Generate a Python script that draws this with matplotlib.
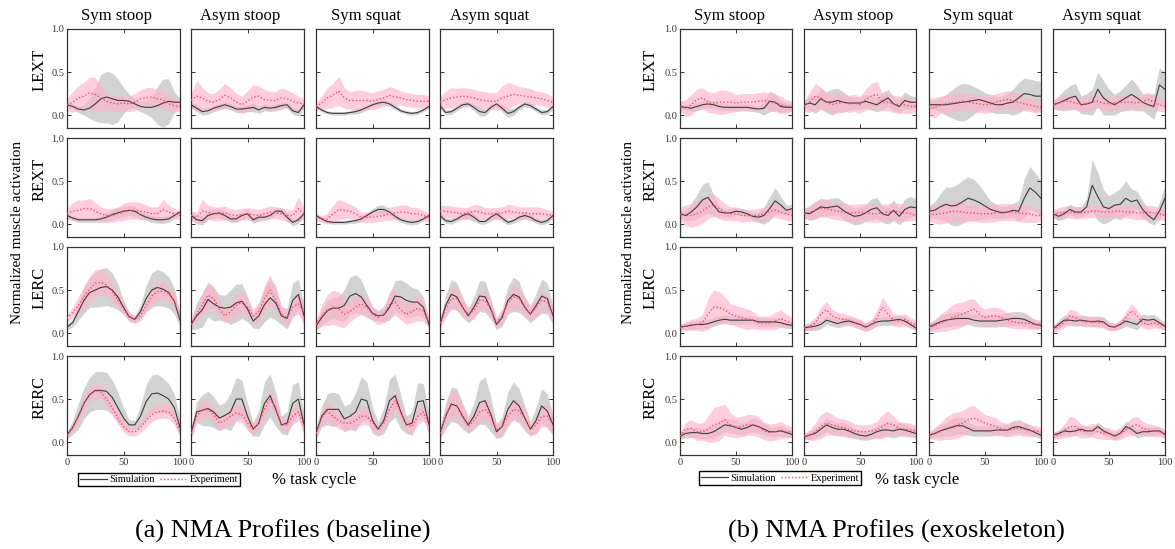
import numpy as np
import matplotlib
matplotlib.use("Agg")
import matplotlib.pyplot as plt
from matplotlib.lines import Line2D

plt.rcParams['font.family'] = ['Liberation Serif', 'DejaVu Serif']

pct = [0, 5, 10, 15, 20, 25, 30, 35, 40, 45, 50, 55, 60, 65, 70, 75, 80, 85, 90, 95, 100]
tasks = ["Sym stoop", "Asym stoop", "Sym squat", "Asym squat"]
muscles = ["LEXT", "REXT", "LERC", "RERC"]

# ---------------- baseline: simulation mean (rows = tasks) ----------------
base_sim_LEXT = [
    [0.12,0.10,0.07,0.06,0.08,0.13,0.19,0.21,0.19,0.17,0.17,0.16,0.13,0.10,0.09,0.09,0.11,0.14,0.16,0.15,0.15],
    [0.12,0.08,0.04,0.05,0.08,0.10,0.12,0.10,0.07,0.07,0.08,0.09,0.06,0.09,0.08,0.09,0.11,0.12,0.05,0.03,0.12],
    [0.10,0.06,0.03,0.02,0.02,0.02,0.03,0.04,0.06,0.09,0.12,0.14,0.15,0.13,0.09,0.05,0.03,0.02,0.03,0.06,0.10],
    [0.11,0.03,0.04,0.08,0.12,0.13,0.09,0.04,0.03,0.09,0.13,0.08,0.02,0.04,0.09,0.13,0.11,0.07,0.03,0.04,0.10]]
base_sim_REXT = [
    [0.10,0.07,0.05,0.05,0.05,0.05,0.06,0.08,0.11,0.13,0.15,0.16,0.15,0.11,0.08,0.06,0.05,0.05,0.06,0.10,0.14],
    [0.10,0.05,0.04,0.10,0.12,0.13,0.10,0.06,0.06,0.10,0.12,0.05,0.08,0.08,0.10,0.15,0.15,0.08,0.02,0.05,0.12],
    [0.10,0.06,0.03,0.02,0.02,0.02,0.03,0.04,0.06,0.10,0.14,0.17,0.17,0.14,0.09,0.05,0.03,0.02,0.03,0.06,0.10],
    [0.10,0.04,0.03,0.06,0.10,0.12,0.08,0.03,0.03,0.08,0.12,0.07,0.02,0.04,0.08,0.10,0.08,0.04,0.02,0.04,0.10]]
base_sim_LERC = [
    [0.07,0.12,0.25,0.38,0.47,0.50,0.53,0.54,0.50,0.42,0.30,0.19,0.16,0.25,0.40,0.50,0.53,0.51,0.47,0.37,0.15],
    [0.10,0.20,0.27,0.39,0.34,0.30,0.29,0.30,0.35,0.37,0.28,0.14,0.20,0.33,0.41,0.35,0.20,0.17,0.38,0.45,0.20],
    [0.08,0.18,0.26,0.29,0.29,0.32,0.43,0.46,0.42,0.32,0.23,0.20,0.21,0.30,0.43,0.42,0.38,0.36,0.36,0.30,0.10],
    [0.10,0.32,0.45,0.42,0.30,0.20,0.30,0.43,0.42,0.28,0.10,0.18,0.38,0.45,0.42,0.30,0.22,0.32,0.43,0.40,0.20]]
base_sim_RERC = [
    [0.08,0.17,0.30,0.45,0.55,0.60,0.60,0.59,0.52,0.40,0.28,0.20,0.20,0.30,0.47,0.56,0.57,0.54,0.50,0.40,0.17],
    [0.10,0.35,0.37,0.39,0.35,0.28,0.31,0.35,0.50,0.50,0.30,0.15,0.22,0.45,0.54,0.38,0.20,0.22,0.45,0.50,0.20],
    [0.10,0.30,0.38,0.38,0.38,0.27,0.30,0.35,0.50,0.48,0.25,0.15,0.25,0.48,0.54,0.35,0.20,0.22,0.47,0.48,0.20],
    [0.10,0.30,0.44,0.42,0.30,0.20,0.30,0.46,0.48,0.32,0.12,0.18,0.38,0.48,0.42,0.28,0.15,0.25,0.42,0.36,0.20]]

# baseline: simulation spread
base_simsd_LEXT = [
    [0.03,0.03,0.04,0.06,0.12,0.20,0.28,0.30,0.30,0.25,0.15,0.08,0.06,0.06,0.08,0.12,0.22,0.28,0.26,0.12,0.05],
    [0.03,0.04,0.04,0.04,0.04,0.04,0.04,0.04,0.04,0.04,0.04,0.05,0.04,0.04,0.04,0.04,0.04,0.04,0.04,0.04,0.03],
    [0.02,0.02,0.02,0.02,0.02,0.02,0.02,0.03,0.03,0.03,0.03,0.03,0.03,0.03,0.03,0.02,0.02,0.02,0.02,0.02,0.02],
    [0.03,0.03,0.03,0.03,0.03,0.03,0.04,0.05,0.04,0.03,0.03,0.04,0.05,0.04,0.03,0.03,0.03,0.03,0.03,0.03,0.03]]
base_simsd_REXT = [
    [0.03,0.03,0.03,0.03,0.03,0.03,0.04,0.05,0.06,0.06,0.06,0.06,0.06,0.05,0.04,0.04,0.04,0.04,0.04,0.04,0.03],
    [0.05,0.05,0.05,0.05,0.05,0.05,0.05,0.04,0.04,0.04,0.05,0.04,0.04,0.04,0.04,0.04,0.04,0.05,0.04,0.04,0.04],
    [0.02,0.02,0.02,0.02,0.02,0.02,0.02,0.03,0.03,0.03,0.04,0.05,0.05,0.04,0.03,0.03,0.03,0.03,0.03,0.02,0.02],
    [0.03,0.03,0.03,0.03,0.04,0.06,0.05,0.03,0.03,0.04,0.05,0.04,0.03,0.03,0.04,0.04,0.04,0.03,0.03,0.03,0.03]]
base_simsd_LERC = [
    [0.03,0.05,0.10,0.15,0.17,0.20,0.22,0.22,0.20,0.15,0.08,0.05,0.04,0.08,0.15,0.20,0.21,0.20,0.18,0.15,0.08],
    [0.06,0.15,0.20,0.20,0.20,0.15,0.15,0.20,0.22,0.20,0.15,0.08,0.15,0.20,0.22,0.20,0.10,0.12,0.20,0.18,0.12],
    [0.04,0.10,0.12,0.12,0.14,0.18,0.22,0.22,0.20,0.14,0.08,0.06,0.08,0.15,0.18,0.20,0.20,0.17,0.15,0.12,0.05],
    [0.05,0.12,0.17,0.16,0.12,0.08,0.12,0.18,0.18,0.12,0.06,0.10,0.16,0.20,0.18,0.12,0.10,0.14,0.20,0.18,0.10]]
base_simsd_RERC = [
    [0.04,0.08,0.15,0.18,0.20,0.22,0.22,0.22,0.20,0.18,0.12,0.06,0.05,0.12,0.20,0.22,0.22,0.20,0.18,0.16,0.10],
    [0.06,0.12,0.18,0.20,0.18,0.15,0.15,0.22,0.25,0.22,0.15,0.08,0.15,0.25,0.25,0.20,0.10,0.14,0.22,0.20,0.12],
    [0.06,0.12,0.18,0.20,0.18,0.15,0.15,0.22,0.26,0.22,0.15,0.08,0.15,0.25,0.25,0.20,0.10,0.14,0.22,0.20,0.12],
    [0.06,0.15,0.20,0.20,0.15,0.10,0.15,0.25,0.28,0.20,0.08,0.12,0.20,0.22,0.20,0.15,0.08,0.15,0.20,0.20,0.12]]

# baseline: experiment mean
base_exp_LEXT = [
    [0.12,0.15,0.20,0.22,0.26,0.24,0.20,0.16,0.14,0.13,0.14,0.13,0.15,0.19,0.20,0.21,0.19,0.18,0.13,0.11,0.10],
    [0.17,0.22,0.20,0.16,0.15,0.18,0.23,0.20,0.15,0.12,0.16,0.21,0.22,0.18,0.17,0.17,0.20,0.19,0.16,0.14,0.13],
    [0.10,0.14,0.20,0.23,0.28,0.20,0.17,0.17,0.17,0.17,0.16,0.18,0.20,0.23,0.21,0.20,0.18,0.17,0.16,0.16,0.16],
    [0.15,0.18,0.20,0.21,0.22,0.21,0.20,0.18,0.17,0.16,0.16,0.20,0.22,0.24,0.23,0.22,0.21,0.20,0.19,0.17,0.15]]
base_exp_REXT = [
    [0.12,0.15,0.16,0.18,0.18,0.15,0.12,0.10,0.10,0.12,0.14,0.16,0.16,0.15,0.14,0.12,0.12,0.17,0.14,0.12,0.10],
    [0.10,0.08,0.15,0.14,0.12,0.12,0.13,0.11,0.10,0.11,0.12,0.11,0.10,0.12,0.14,0.13,0.12,0.10,0.10,0.18,0.12],
    [0.08,0.06,0.06,0.12,0.17,0.16,0.15,0.12,0.08,0.08,0.08,0.09,0.10,0.12,0.13,0.14,0.14,0.12,0.12,0.10,0.08],
    [0.15,0.15,0.14,0.13,0.12,0.13,0.15,0.14,0.12,0.12,0.12,0.13,0.15,0.14,0.13,0.13,0.12,0.12,0.12,0.11,0.10]]
base_exp_LERC = [
    [0.17,0.24,0.32,0.42,0.51,0.58,0.59,0.56,0.48,0.38,0.28,0.19,0.16,0.20,0.32,0.43,0.48,0.49,0.46,0.38,0.18],
    [0.10,0.22,0.33,0.44,0.40,0.28,0.20,0.25,0.32,0.36,0.30,0.20,0.25,0.40,0.50,0.38,0.22,0.18,0.30,0.34,0.25],
    [0.10,0.20,0.27,0.30,0.28,0.22,0.25,0.30,0.34,0.30,0.22,0.18,0.22,0.33,0.36,0.27,0.22,0.25,0.29,0.26,0.12],
    [0.12,0.28,0.40,0.40,0.30,0.22,0.26,0.38,0.38,0.28,0.12,0.20,0.35,0.42,0.40,0.30,0.22,0.30,0.38,0.36,0.20]]
base_exp_RERC = [
    [0.08,0.16,0.30,0.45,0.55,0.60,0.58,0.50,0.40,0.28,0.18,0.12,0.12,0.17,0.25,0.32,0.35,0.36,0.35,0.28,0.12],
    [0.10,0.30,0.38,0.38,0.32,0.22,0.25,0.30,0.34,0.32,0.22,0.15,0.22,0.38,0.50,0.40,0.20,0.20,0.30,0.35,0.20],
    [0.10,0.28,0.36,0.30,0.25,0.22,0.22,0.25,0.30,0.30,0.22,0.14,0.22,0.38,0.48,0.35,0.20,0.18,0.30,0.35,0.20],
    [0.10,0.30,0.45,0.42,0.30,0.18,0.25,0.35,0.38,0.30,0.14,0.18,0.30,0.38,0.36,0.28,0.15,0.20,0.30,0.30,0.20]]

# baseline: experiment spread
base_expsd_LEXT = [
    [0.08,0.12,0.14,0.16,0.18,0.20,0.14,0.10,0.10,0.09,0.09,0.09,0.10,0.10,0.12,0.11,0.10,0.10,0.08,0.08,0.06],
    [0.08,0.18,0.12,0.10,0.10,0.12,0.14,0.12,0.10,0.10,0.12,0.14,0.12,0.12,0.10,0.10,0.12,0.10,0.10,0.08,0.06],
    [0.04,0.08,0.12,0.14,0.17,0.12,0.10,0.12,0.12,0.10,0.10,0.10,0.10,0.10,0.10,0.08,0.08,0.08,0.08,0.08,0.06],
    [0.06,0.10,0.12,0.10,0.10,0.10,0.10,0.10,0.10,0.10,0.10,0.14,0.16,0.12,0.10,0.10,0.10,0.08,0.08,0.08,0.06]]
base_expsd_REXT = [
    [0.06,0.10,0.12,0.10,0.12,0.10,0.08,0.08,0.08,0.08,0.10,0.10,0.10,0.10,0.08,0.08,0.08,0.12,0.08,0.06,0.05],
    [0.05,0.06,0.14,0.08,0.08,0.08,0.08,0.07,0.07,0.07,0.07,0.07,0.07,0.07,0.07,0.07,0.07,0.07,0.07,0.14,0.06],
    [0.04,0.04,0.06,0.10,0.12,0.10,0.08,0.08,0.06,0.06,0.06,0.06,0.06,0.08,0.08,0.08,0.08,0.07,0.07,0.06,0.05],
    [0.06,0.07,0.07,0.07,0.07,0.07,0.08,0.08,0.07,0.07,0.07,0.07,0.08,0.08,0.07,0.07,0.08,0.08,0.07,0.06,0.05]]
base_expsd_LERC = [
    [0.04,0.06,0.10,0.13,0.15,0.16,0.15,0.13,0.10,0.08,0.06,0.05,0.05,0.06,0.08,0.10,0.10,0.10,0.10,0.08,0.05],
    [0.05,0.08,0.12,0.15,0.12,0.10,0.08,0.10,0.12,0.12,0.10,0.08,0.10,0.15,0.18,0.12,0.10,0.08,0.10,0.12,0.12],
    [0.05,0.12,0.18,0.20,0.20,0.16,0.12,0.12,0.12,0.10,0.08,0.08,0.10,0.15,0.15,0.12,0.12,0.13,0.15,0.12,0.06],
    [0.05,0.10,0.12,0.12,0.10,0.08,0.10,0.10,0.10,0.10,0.06,0.08,0.10,0.14,0.12,0.10,0.08,0.10,0.10,0.10,0.08]]
base_expsd_RERC = [
    [0.03,0.05,0.07,0.08,0.08,0.08,0.08,0.08,0.08,0.07,0.06,0.05,0.05,0.06,0.08,0.08,0.08,0.08,0.08,0.08,0.05],
    [0.04,0.08,0.10,0.10,0.10,0.08,0.08,0.10,0.10,0.10,0.08,0.06,0.08,0.10,0.10,0.10,0.08,0.08,0.10,0.10,0.08],
    [0.04,0.08,0.10,0.10,0.10,0.08,0.08,0.10,0.10,0.10,0.08,0.06,0.08,0.10,0.10,0.10,0.08,0.08,0.10,0.10,0.08],
    [0.05,0.12,0.15,0.15,0.12,0.08,0.10,0.12,0.12,0.10,0.08,0.08,0.10,0.12,0.12,0.10,0.08,0.10,0.12,0.12,0.10]]

# ---------------- exoskeleton: simulation mean ----------------
exo_sim_LEXT = [
    [0.10,0.09,0.08,0.10,0.12,0.13,0.12,0.10,0.09,0.09,0.09,0.09,0.09,0.08,0.07,0.08,0.16,0.15,0.10,0.09,0.09],
    [0.12,0.14,0.12,0.19,0.15,0.15,0.17,0.15,0.14,0.14,0.14,0.16,0.14,0.12,0.16,0.20,0.13,0.10,0.17,0.15,0.15],
    [0.12,0.12,0.12,0.12,0.13,0.14,0.15,0.16,0.17,0.18,0.16,0.14,0.12,0.12,0.14,0.15,0.20,0.25,0.24,0.22,0.22],
    [0.12,0.14,0.17,0.20,0.22,0.12,0.13,0.15,0.30,0.20,0.15,0.12,0.16,0.20,0.24,0.20,0.15,0.12,0.10,0.35,0.30]]
exo_sim_REXT = [
    [0.12,0.10,0.14,0.20,0.28,0.31,0.22,0.14,0.13,0.13,0.15,0.14,0.12,0.09,0.08,0.10,0.18,0.27,0.22,0.16,0.18],
    [0.13,0.12,0.16,0.20,0.19,0.20,0.21,0.16,0.12,0.09,0.10,0.13,0.17,0.19,0.12,0.10,0.16,0.09,0.17,0.20,0.19],
    [0.15,0.16,0.20,0.23,0.21,0.22,0.26,0.30,0.28,0.25,0.21,0.17,0.15,0.13,0.14,0.16,0.15,0.30,0.42,0.37,0.30],
    [0.12,0.09,0.12,0.17,0.14,0.14,0.20,0.45,0.32,0.20,0.18,0.22,0.23,0.30,0.26,0.28,0.17,0.10,0.05,0.15,0.30]]
exo_sim_LERC = [
    [0.07,0.08,0.09,0.10,0.10,0.11,0.13,0.15,0.16,0.15,0.15,0.15,0.15,0.15,0.13,0.13,0.13,0.13,0.12,0.10,0.09],
    [0.06,0.07,0.08,0.10,0.15,0.13,0.11,0.13,0.14,0.12,0.10,0.07,0.10,0.13,0.14,0.14,0.15,0.16,0.14,0.10,0.06],
    [0.07,0.10,0.13,0.15,0.16,0.17,0.17,0.17,0.15,0.14,0.14,0.14,0.14,0.15,0.16,0.17,0.17,0.16,0.13,0.10,0.09],
    [0.05,0.10,0.15,0.15,0.14,0.15,0.14,0.13,0.14,0.13,0.08,0.07,0.10,0.14,0.12,0.10,0.16,0.15,0.16,0.12,0.08]]
exo_sim_RERC = [
    [0.07,0.10,0.11,0.11,0.10,0.10,0.12,0.16,0.20,0.19,0.17,0.15,0.17,0.20,0.18,0.15,0.12,0.12,0.13,0.11,0.09],
    [0.06,0.08,0.10,0.15,0.20,0.17,0.15,0.15,0.13,0.10,0.08,0.07,0.09,0.12,0.14,0.14,0.13,0.15,0.14,0.12,0.10],
    [0.08,0.10,0.13,0.15,0.17,0.19,0.19,0.16,0.13,0.13,0.13,0.13,0.14,0.14,0.14,0.17,0.18,0.16,0.14,0.11,0.08],
    [0.08,0.10,0.13,0.12,0.13,0.15,0.13,0.13,0.18,0.13,0.10,0.07,0.10,0.18,0.15,0.10,0.12,0.12,0.13,0.13,0.09]]

# exoskeleton: simulation spread
exo_simsd_LEXT = [
    [0.03,0.03,0.04,0.05,0.05,0.05,0.05,0.04,0.04,0.04,0.04,0.04,0.04,0.04,0.04,0.08,0.12,0.10,0.07,0.05,0.04],
    [0.04,0.08,0.10,0.12,0.12,0.15,0.14,0.12,0.08,0.07,0.07,0.08,0.08,0.08,0.10,0.10,0.08,0.08,0.10,0.08,0.06],
    [0.05,0.06,0.08,0.12,0.16,0.20,0.22,0.20,0.16,0.12,0.10,0.10,0.10,0.10,0.12,0.15,0.18,0.18,0.18,0.18,0.17],
    [0.04,0.08,0.12,0.14,0.15,0.10,0.12,0.15,0.20,0.20,0.15,0.12,0.12,0.15,0.18,0.15,0.10,0.12,0.15,0.20,0.20]]
exo_simsd_REXT = [
    [0.04,0.06,0.10,0.14,0.18,0.18,0.12,0.06,0.05,0.05,0.04,0.04,0.04,0.04,0.06,0.10,0.14,0.15,0.10,0.06,0.05],
    [0.05,0.08,0.10,0.10,0.10,0.10,0.10,0.10,0.10,0.10,0.10,0.10,0.12,0.12,0.10,0.10,0.12,0.10,0.12,0.12,0.10],
    [0.06,0.10,0.15,0.20,0.22,0.24,0.25,0.25,0.24,0.20,0.15,0.10,0.08,0.07,0.07,0.08,0.12,0.22,0.25,0.22,0.20],
    [0.04,0.05,0.06,0.06,0.06,0.06,0.10,0.30,0.28,0.20,0.15,0.15,0.18,0.20,0.15,0.10,0.10,0.08,0.06,0.10,0.15]]
exo_simsd_LERC = [
    [0.03,0.04,0.05,0.05,0.05,0.05,0.05,0.05,0.05,0.05,0.05,0.05,0.05,0.05,0.05,0.05,0.05,0.05,0.05,0.04,0.04],
    [0.03,0.04,0.05,0.05,0.05,0.05,0.05,0.05,0.05,0.05,0.05,0.05,0.05,0.05,0.05,0.05,0.05,0.05,0.05,0.04,0.03],
    [0.04,0.06,0.07,0.08,0.08,0.08,0.08,0.07,0.07,0.07,0.07,0.07,0.07,0.07,0.08,0.08,0.08,0.08,0.07,0.05,0.04],
    [0.03,0.05,0.06,0.06,0.06,0.06,0.06,0.06,0.06,0.06,0.05,0.04,0.05,0.06,0.06,0.06,0.06,0.06,0.06,0.05,0.04]]
exo_simsd_RERC = [
    [0.03,0.05,0.06,0.06,0.06,0.06,0.07,0.08,0.08,0.08,0.08,0.07,0.07,0.08,0.08,0.07,0.06,0.06,0.06,0.05,0.04],
    [0.03,0.05,0.06,0.07,0.08,0.08,0.08,0.08,0.07,0.06,0.05,0.05,0.06,0.07,0.08,0.08,0.08,0.08,0.07,0.06,0.05],
    [0.03,0.05,0.07,0.08,0.10,0.10,0.10,0.08,0.06,0.06,0.06,0.06,0.06,0.06,0.07,0.08,0.08,0.07,0.06,0.05,0.04],
    [0.03,0.04,0.05,0.05,0.05,0.05,0.05,0.05,0.05,0.05,0.04,0.04,0.05,0.06,0.06,0.05,0.05,0.05,0.05,0.05,0.04]]

# exoskeleton: experiment mean
exo_exp_LEXT = [
    [0.10,0.08,0.12,0.18,0.20,0.15,0.14,0.15,0.15,0.15,0.14,0.15,0.15,0.15,0.16,0.17,0.16,0.14,0.12,0.10,0.10],
    [0.10,0.15,0.22,0.20,0.15,0.12,0.14,0.15,0.13,0.14,0.12,0.18,0.22,0.24,0.15,0.15,0.13,0.12,0.12,0.10,0.10],
    [0.10,0.08,0.12,0.13,0.14,0.15,0.16,0.15,0.14,0.13,0.12,0.13,0.15,0.17,0.18,0.17,0.15,0.13,0.12,0.10,0.09],
    [0.12,0.14,0.16,0.16,0.14,0.12,0.13,0.15,0.16,0.14,0.13,0.14,0.15,0.15,0.15,0.14,0.16,0.18,0.15,0.12,0.10]]
exo_exp_REXT = [
    [0.12,0.10,0.10,0.12,0.15,0.20,0.22,0.18,0.14,0.12,0.12,0.10,0.10,0.10,0.10,0.12,0.15,0.16,0.14,0.12,0.10],
    [0.12,0.14,0.16,0.18,0.18,0.16,0.15,0.14,0.13,0.13,0.14,0.14,0.12,0.12,0.13,0.14,0.15,0.14,0.13,0.12,0.10],
    [0.12,0.11,0.12,0.13,0.15,0.15,0.14,0.13,0.13,0.12,0.12,0.12,0.13,0.14,0.14,0.14,0.13,0.12,0.12,0.10,0.10],
    [0.12,0.13,0.14,0.14,0.13,0.13,0.14,0.15,0.15,0.14,0.14,0.15,0.15,0.14,0.14,0.13,0.13,0.14,0.13,0.12,0.10]]
exo_exp_LERC = [
    [0.06,0.08,0.10,0.10,0.12,0.22,0.30,0.30,0.27,0.22,0.20,0.18,0.16,0.15,0.12,0.12,0.12,0.14,0.17,0.14,0.12],
    [0.06,0.08,0.12,0.22,0.27,0.20,0.17,0.16,0.15,0.13,0.10,0.07,0.10,0.18,0.30,0.22,0.15,0.14,0.16,0.12,0.10],
    [0.07,0.08,0.12,0.14,0.18,0.20,0.22,0.25,0.28,0.22,0.18,0.20,0.20,0.18,0.15,0.13,0.12,0.12,0.11,0.10,0.10],
    [0.05,0.08,0.12,0.20,0.18,0.14,0.13,0.14,0.12,0.12,0.08,0.07,0.10,0.18,0.26,0.20,0.12,0.10,0.12,0.10,0.08]]
exo_exp_RERC = [
    [0.07,0.15,0.16,0.12,0.12,0.15,0.20,0.22,0.26,0.20,0.17,0.18,0.20,0.20,0.18,0.13,0.11,0.12,0.14,0.12,0.12],
    [0.07,0.08,0.12,0.18,0.22,0.20,0.18,0.17,0.15,0.13,0.12,0.12,0.13,0.14,0.18,0.22,0.20,0.16,0.15,0.14,0.13],
    [0.08,0.10,0.12,0.16,0.18,0.20,0.22,0.26,0.28,0.25,0.22,0.20,0.18,0.15,0.14,0.15,0.16,0.15,0.13,0.13,0.12],
    [0.08,0.08,0.13,0.18,0.18,0.13,0.12,0.14,0.12,0.10,0.10,0.08,0.10,0.14,0.18,0.20,0.16,0.14,0.13,0.12,0.10]]

# exoskeleton: experiment spread
exo_expsd_LEXT = [
    [0.06,0.10,0.12,0.12,0.12,0.12,0.12,0.14,0.14,0.12,0.10,0.10,0.10,0.10,0.10,0.10,0.10,0.10,0.10,0.08,0.06],
    [0.06,0.12,0.15,0.12,0.10,0.10,0.10,0.10,0.10,0.10,0.10,0.12,0.15,0.15,0.10,0.10,0.10,0.10,0.10,0.08,0.06],
    [0.10,0.12,0.10,0.10,0.10,0.10,0.10,0.10,0.10,0.10,0.10,0.10,0.10,0.10,0.10,0.10,0.10,0.08,0.08,0.08,0.06],
    [0.05,0.08,0.08,0.08,0.08,0.08,0.08,0.08,0.08,0.08,0.08,0.08,0.08,0.08,0.08,0.08,0.08,0.08,0.08,0.08,0.06]]
exo_expsd_REXT = [
    [0.08,0.12,0.14,0.14,0.14,0.14,0.13,0.12,0.10,0.08,0.08,0.08,0.07,0.07,0.08,0.08,0.08,0.08,0.08,0.08,0.06],
    [0.06,0.08,0.10,0.10,0.10,0.10,0.10,0.10,0.10,0.10,0.10,0.10,0.10,0.10,0.10,0.10,0.10,0.10,0.10,0.08,0.06],
    [0.08,0.10,0.12,0.12,0.12,0.12,0.12,0.10,0.10,0.10,0.10,0.10,0.10,0.10,0.10,0.10,0.10,0.10,0.10,0.08,0.06],
    [0.05,0.06,0.07,0.07,0.07,0.07,0.07,0.07,0.07,0.07,0.07,0.07,0.07,0.07,0.08,0.08,0.08,0.08,0.08,0.07,0.06]]
exo_expsd_LERC = [
    [0.04,0.05,0.06,0.07,0.10,0.18,0.20,0.18,0.15,0.12,0.12,0.12,0.12,0.10,0.08,0.08,0.08,0.10,0.10,0.08,0.06],
    [0.04,0.05,0.06,0.08,0.10,0.08,0.07,0.07,0.06,0.06,0.06,0.05,0.06,0.08,0.12,0.10,0.07,0.07,0.07,0.06,0.05],
    [0.05,0.07,0.10,0.12,0.14,0.15,0.14,0.14,0.12,0.10,0.10,0.10,0.10,0.10,0.08,0.08,0.07,0.07,0.07,0.06,0.05],
    [0.04,0.05,0.06,0.08,0.08,0.06,0.06,0.06,0.06,0.06,0.05,0.04,0.05,0.07,0.08,0.07,0.06,0.06,0.06,0.05,0.04]]
exo_expsd_RERC = [
    [0.04,0.08,0.10,0.10,0.10,0.15,0.20,0.20,0.18,0.14,0.12,0.12,0.12,0.12,0.12,0.10,0.10,0.10,0.10,0.08,0.06],
    [0.04,0.06,0.10,0.14,0.14,0.12,0.10,0.10,0.10,0.08,0.08,0.08,0.08,0.10,0.14,0.14,0.10,0.08,0.08,0.08,0.06],
    [0.04,0.07,0.10,0.13,0.15,0.15,0.15,0.15,0.15,0.12,0.10,0.10,0.10,0.08,0.08,0.08,0.08,0.08,0.07,0.06,0.05],
    [0.04,0.05,0.08,0.12,0.10,0.08,0.07,0.08,0.08,0.07,0.07,0.06,0.07,0.08,0.10,0.10,0.08,0.07,0.07,0.06,0.05]]

base = {
    "sim": [base_sim_LEXT, base_sim_REXT, base_sim_LERC, base_sim_RERC],
    "simsd": [base_simsd_LEXT, base_simsd_REXT, base_simsd_LERC, base_simsd_RERC],
    "exp": [base_exp_LEXT, base_exp_REXT, base_exp_LERC, base_exp_RERC],
    "expsd": [base_expsd_LEXT, base_expsd_REXT, base_expsd_LERC, base_expsd_RERC],
}
exo = {
    "sim": [exo_sim_LEXT, exo_sim_REXT, exo_sim_LERC, exo_sim_RERC],
    "simsd": [exo_simsd_LEXT, exo_simsd_REXT, exo_simsd_LERC, exo_simsd_RERC],
    "exp": [exo_exp_LEXT, exo_exp_REXT, exo_exp_LERC, exo_exp_RERC],
    "expsd": [exo_expsd_LEXT, exo_expsd_REXT, exo_expsd_LERC, exo_expsd_RERC],
}

# layout (pixels)
W, H = 1175, 549
fig = plt.figure(figsize=(W / 100, H / 100), dpi=100)
row_tops = [29, 138, 247, 356]
ax_h = 99

SIM_C = "#3c3c3c"
SIM_BAND = "#d2d2d2"
EXP_C = "#ff4a5a"
EXP_BAND = "#ffb3cd"
x = np.array(pct)


def px_axes(x0, top, w, h):
    return fig.add_axes([x0 / W, 1 - (top + h) / H, w / W, h / H])


def draw_panel(data, col_x, ax_w, ylabel_x, rowlab_x, xlabel_x, caption, caption_x):
    for r, m in enumerate(muscles):
        for c, t in enumerate(tasks):
            ax = px_axes(col_x[c], row_tops[r], ax_w, ax_h)
            sm = np.array(data["sim"][r][c]); ss = np.array(data["simsd"][r][c])
            em = np.array(data["exp"][r][c]); es = np.array(data["expsd"][r][c])
            ax.fill_between(x, sm - ss, sm + ss, color=SIM_BAND, lw=0, zorder=1)
            ax.fill_between(x, em - es, em + es, color=EXP_BAND, alpha=0.65, lw=0, zorder=2)
            ax.plot(x, sm, color=SIM_C, lw=0.8, zorder=3)
            ax.plot(x, em, color=EXP_C, lw=1.0, ls=(0, (1, 1.5)), zorder=4)
            ax.set_xlim(0, 100)
            ax.set_ylim(-0.15, 1.0)
            ax.set_xticks([0, 50, 100])
            ax.set_yticks([0.0, 0.5, 1.0])
            ax.tick_params(direction="in", top=True, right=True, length=3, width=0.7,
                           labelsize=7.5, colors="#333333", pad=2)
            for s in ax.spines.values():
                s.set_linewidth(0.9)
                s.set_color("#333333")
            if c == 0:
                ax.set_yticklabels(["0.0", "0.5", "1.0"])
            else:
                ax.set_yticklabels([])
            if r == 3:
                ax.set_xticklabels(["0", "50", "100"])
            else:
                ax.set_xticklabels([])
            if r == 0:
                fig.text((col_x[c] + ax_w / 2 - 7) / W, 1 - 16 / H, t,
                         ha="center", va="center", fontsize=12)
        fig.text(rowlab_x / W, 1 - (row_tops[r] + 41) / H, m, rotation=90,
                 ha="center", va="center", fontsize=12)
    fig.text(ylabel_x / W, 1 - 232 / H, "Normalized muscle activation", rotation=90,
             ha="center", va="center", fontsize=11)
    fig.text(xlabel_x / W, 1 - 480 / H, "% task cycle", ha="center", va="center", fontsize=12)
    fig.text(caption_x / W, 1 - 531 / H, caption, ha="center", va="center", fontsize=19)


draw_panel(base, [67, 191, 316, 440], 113, 18, 40, 314,
           "(a) NMA Profiles (baseline)", 283)
draw_panel(exo, [680, 804, 929, 1053], 112, 628, 651, 917,
           "(b) NMA Profiles (exoskeleton)", 896)

handles = [Line2D([], [], color=SIM_C, lw=0.9),
           Line2D([], [], color=EXP_C, lw=1.0, ls=(0, (1, 1.5)))]
for cx, cy in ((159, 479.5), (780, 478)):
    fig.legend(handles, ["Simulation", "Experiment"], loc="center",
               bbox_to_anchor=(cx / W, 1 - cy / H), ncol=2, fontsize=7.5,
               frameon=True, fancybox=False, edgecolor="black", framealpha=1,
               borderpad=0.2, handlelength=2.6, handletextpad=0.2, columnspacing=0.5,
               borderaxespad=0)

fig.savefig("out.png", dpi=100)
